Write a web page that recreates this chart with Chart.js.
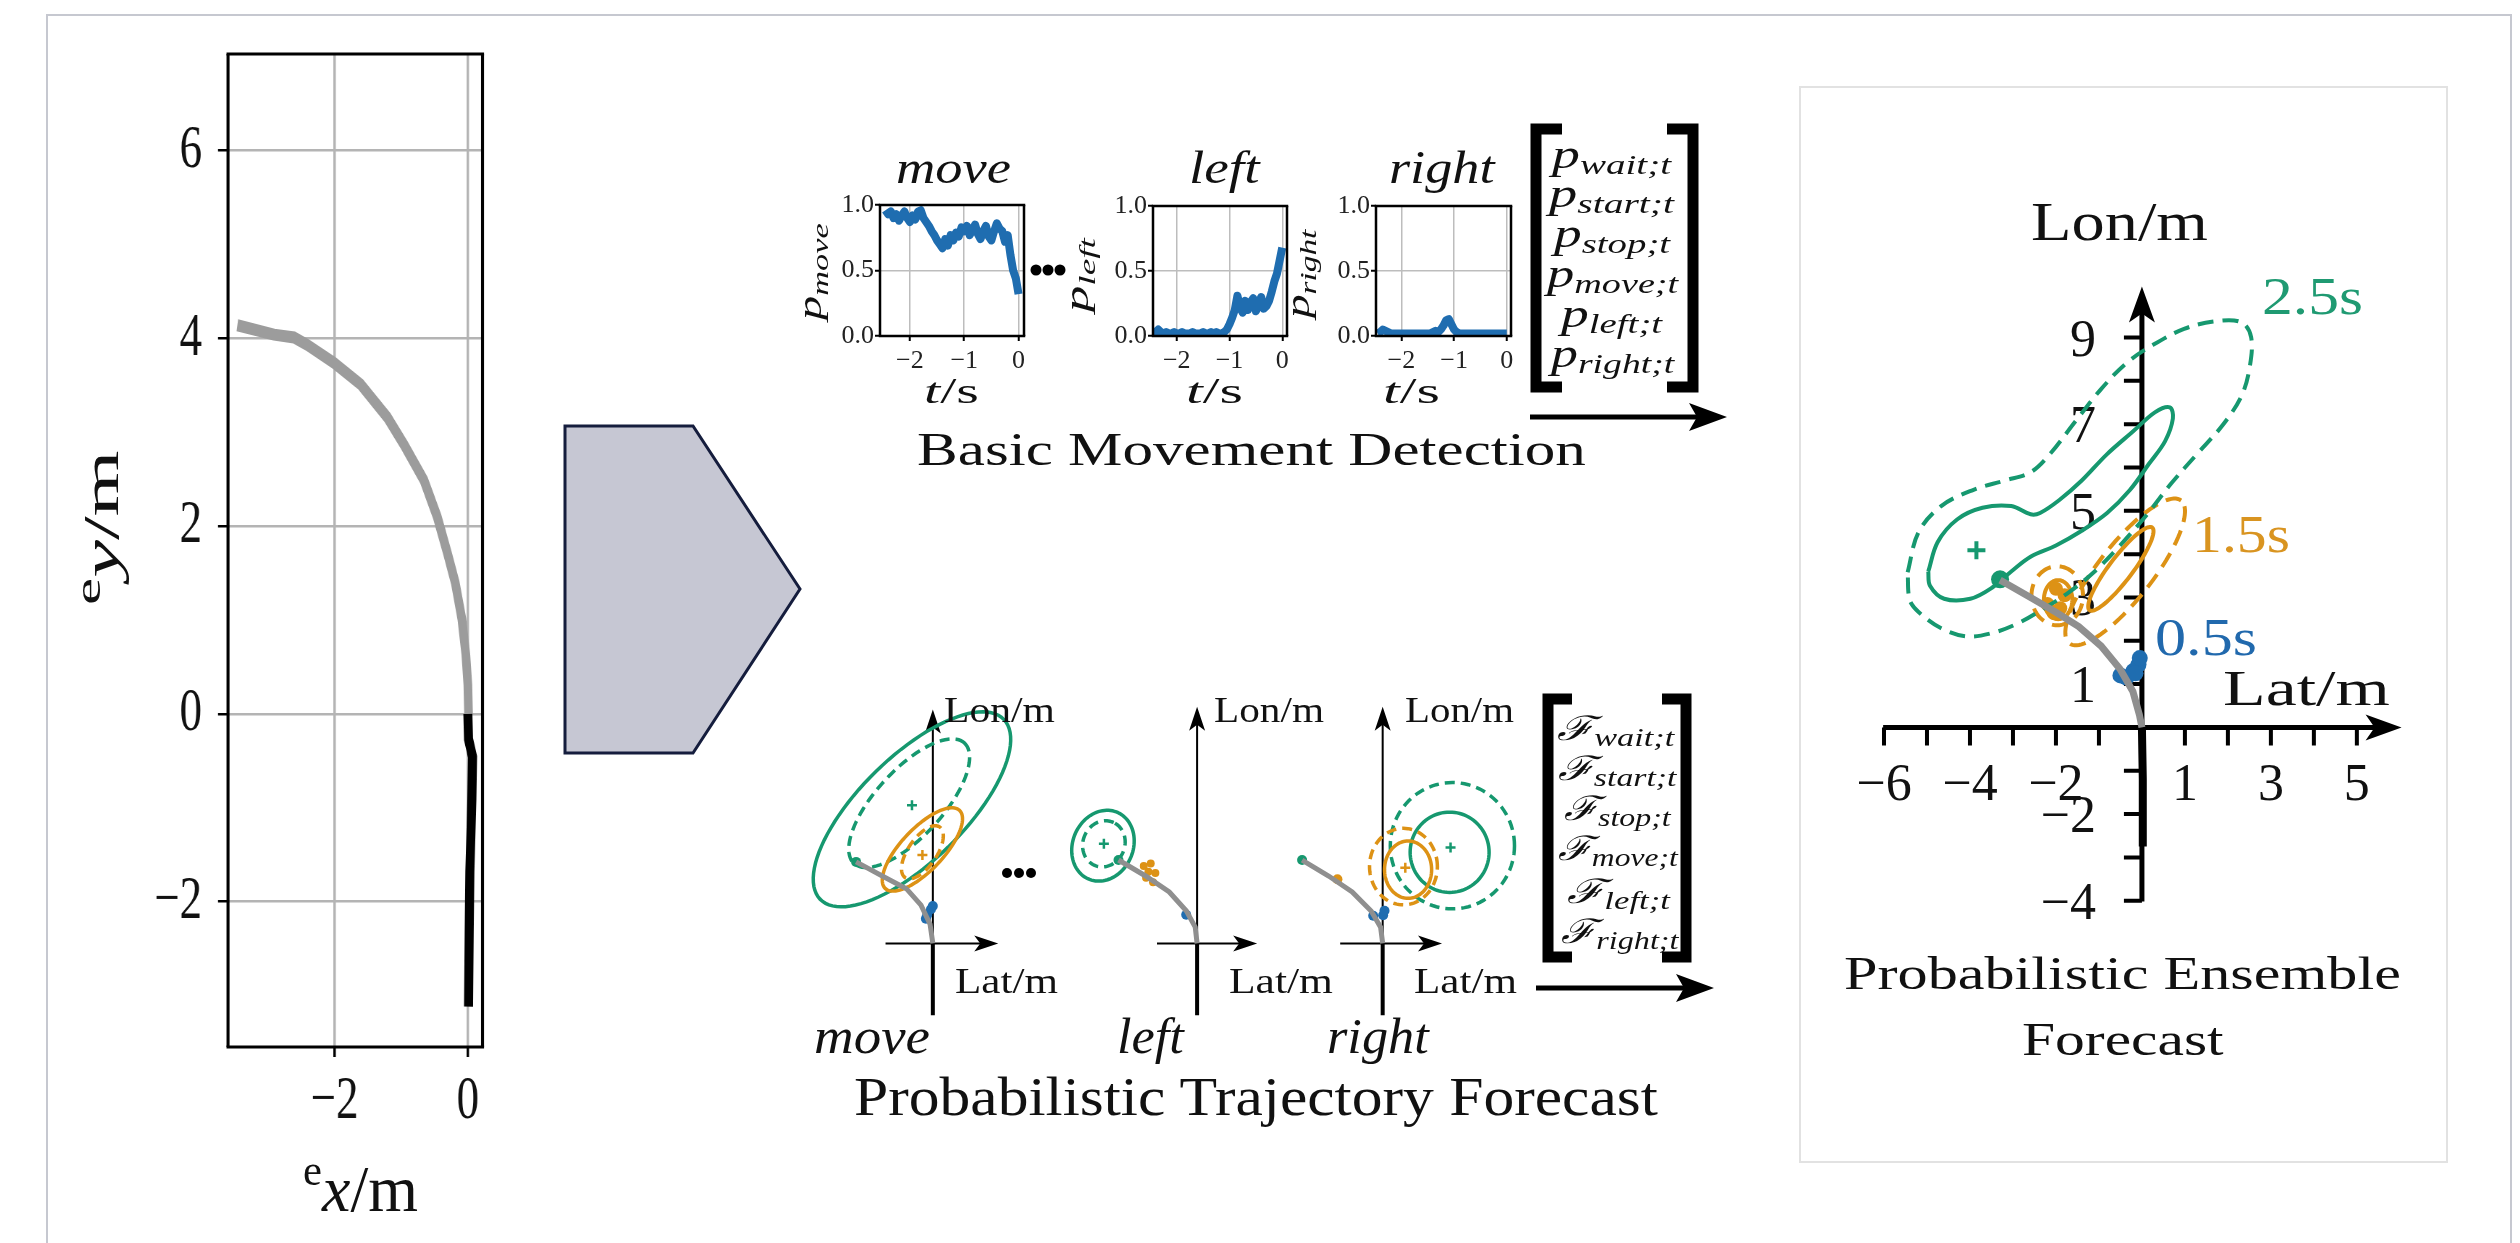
<!DOCTYPE html>
<html>
<head>
<meta charset="utf-8">
<script src="https://cdn.jsdelivr.net/npm/chart.js@4.4.1/dist/chart.umd.min.js"></script>
<style>
  html, body { margin: 0; padding: 0; background: #fff; }
  body { width: 2520px; height: 1243px; position: relative; overflow: hidden; }
  canvas { position: absolute; }
  svg { position: absolute; left: 0; top: 0; }
  svg text { font-family: "Liberation Serif", serif; fill: #111; }
</style>
</head>
<body>
<svg id="back" width="2520" height="1243">
  <rect x="47" y="15" width="2464" height="1300" fill="none" stroke="#c6c8d0" stroke-width="2"/>
  <rect x="1800" y="87" width="647" height="1075" fill="#fff" stroke="#e2e2e2" stroke-width="2"/>
  <polygon points="565,426 693,426 800,589 693,753 565,753" fill="#c6c7d3" stroke="#151d3d" stroke-width="3"/>
</svg>

<canvas id="traj"></canvas>
<canvas id="pMove"></canvas>
<canvas id="pLeft"></canvas>
<canvas id="pRight"></canvas>
<canvas id="fMove"></canvas>
<canvas id="fLeft"></canvas>
<canvas id="fRight"></canvas>
<canvas id="ens"></canvas>

<svg id="deco" width="2520" height="1243">
  <!-- left panel axis titles -->
  <text transform="translate(303,1211)" font-size="66" data-w="115"><tspan font-size="44" dy="-26">e</tspan><tspan font-style="italic" dy="26">x</tspan>/m</text>
  <text transform="translate(118,605) rotate(-90)" font-size="50" data-w="155"><tspan font-size="36" dy="-18">e</tspan><tspan font-style="italic" dy="18">y</tspan>/m</text>

  <!-- basic movement detection -->
  <text transform="translate(896,183)" font-size="46" font-style="italic" data-w="115">move</text>
  <text transform="translate(1189,183)" font-size="46" font-style="italic" data-w="72">left</text>
  <text transform="translate(1389,183)" font-size="46" font-style="italic" data-w="107">right</text>
  <text transform="translate(924,403)" font-size="36" data-w="55"><tspan font-style="italic">t</tspan>/s</text>
  <text transform="translate(1186,403)" font-size="36" data-w="57"><tspan font-style="italic">t</tspan>/s</text>
  <text transform="translate(1383,403)" font-size="36" data-w="57"><tspan font-style="italic">t</tspan>/s</text>
  <text transform="translate(821,320) rotate(-90)" font-size="34" data-w="100"><tspan font-style="italic">p</tspan><tspan font-style="italic" font-size="24" dy="7">move</tspan></text>
  <text transform="translate(1088,312) rotate(-90)" font-size="34" data-w="79"><tspan font-style="italic">p</tspan><tspan font-style="italic" font-size="24" dy="7">left</tspan></text>
  <text transform="translate(1309,318) rotate(-90)" font-size="34" data-w="93"><tspan font-style="italic">p</tspan><tspan font-style="italic" font-size="24" dy="7">right</tspan></text>
  <circle cx="1036" cy="270" r="5.5" fill="#000"/><circle cx="1048" cy="270" r="5.5" fill="#000"/><circle cx="1060" cy="270" r="5.5" fill="#000"/>
  <text transform="translate(917,465)" font-size="46" data-w="669">Basic Movement Detection</text>

  <polyline points="1562,129 1536,129 1536,387 1562,387" fill="none" stroke="#000" stroke-width="11"/>
  <polyline points="1667,129 1693,129 1693,387 1667,387" fill="none" stroke="#000" stroke-width="11"/>
  <text transform="translate(1552,168)" font-size="40" data-w="125"><tspan font-style="italic">p</tspan><tspan font-style="italic" font-size="28" dy="6">wait;t</tspan></text>
  <text transform="translate(1549,207)" font-size="40" data-w="131"><tspan font-style="italic">p</tspan><tspan font-style="italic" font-size="28" dy="6">start;t</tspan></text>
  <text transform="translate(1554,247)" font-size="40" data-w="122"><tspan font-style="italic">p</tspan><tspan font-style="italic" font-size="28" dy="6">stop;t</tspan></text>
  <text transform="translate(1547,287)" font-size="40" data-w="137"><tspan font-style="italic">p</tspan><tspan font-style="italic" font-size="28" dy="6">move;t</tspan></text>
  <text transform="translate(1561,327)" font-size="40" data-w="107"><tspan font-style="italic">p</tspan><tspan font-style="italic" font-size="28" dy="6">left;t</tspan></text>
  <text transform="translate(1551,367)" font-size="40" data-w="129"><tspan font-style="italic">p</tspan><tspan font-style="italic" font-size="28" dy="6">right;t</tspan></text>
  <line x1="1530" y1="417" x2="1705" y2="417" stroke="#000" stroke-width="5"/>
  <polygon points="1727,417 1689,403 1697,417 1689,431" fill="#000"/>

  <!-- probabilistic trajectory forecast -->
  <text transform="translate(944,722)" font-size="36" data-w="111">Lon/m</text>
  <text transform="translate(1214,722)" font-size="36" data-w="110">Lon/m</text>
  <text transform="translate(1405,722)" font-size="36" data-w="109">Lon/m</text>
  <text transform="translate(955,993)" font-size="36" data-w="103">Lat/m</text>
  <text transform="translate(1229,993)" font-size="36" data-w="104">Lat/m</text>
  <text transform="translate(1414,993)" font-size="36" data-w="103">Lat/m</text>
  <text transform="translate(814,1053)" font-size="50" font-style="italic" data-w="116">move</text>
  <text transform="translate(1117,1053)" font-size="50" font-style="italic" data-w="68">left</text>
  <text transform="translate(1327,1053)" font-size="50" font-style="italic" data-w="103">right</text>
  <circle cx="1007" cy="873" r="5" fill="#000"/><circle cx="1019" cy="873" r="5" fill="#000"/><circle cx="1031" cy="873" r="5" fill="#000"/>
  <text transform="translate(854,1115)" font-size="55" data-w="804">Probabilistic Trajectory Forecast</text>

  <polyline points="1572,699 1548,699 1548,957 1572,957" fill="none" stroke="#000" stroke-width="11"/>
  <polyline points="1662,699 1686,699 1686,957 1662,957" fill="none" stroke="#000" stroke-width="11"/>
  <text transform="translate(1557,740)" font-size="34" data-w="118"><tspan font-family="DejaVu Serif" font-style="italic">ℱ</tspan><tspan font-style="italic" font-size="26" dy="6">wait;t</tspan></text>
  <text transform="translate(1558,780)" font-size="34" data-w="120"><tspan font-family="DejaVu Serif" font-style="italic">ℱ</tspan><tspan font-style="italic" font-size="26" dy="6">start;t</tspan></text>
  <text transform="translate(1564,820)" font-size="34" data-w="108"><tspan font-family="DejaVu Serif" font-style="italic">ℱ</tspan><tspan font-style="italic" font-size="26" dy="6">stop;t</tspan></text>
  <text transform="translate(1558,860)" font-size="34" data-w="121"><tspan font-family="DejaVu Serif" font-style="italic">ℱ</tspan><tspan font-style="italic" font-size="26" dy="6">move;t</tspan></text>
  <text transform="translate(1567,903)" font-size="34" data-w="104"><tspan font-family="DejaVu Serif" font-style="italic">ℱ</tspan><tspan font-style="italic" font-size="26" dy="6">left;t</tspan></text>
  <text transform="translate(1561,943)" font-size="34" data-w="118"><tspan font-family="DejaVu Serif" font-style="italic">ℱ</tspan><tspan font-style="italic" font-size="26" dy="6">right;t</tspan></text>
  <line x1="1536" y1="988" x2="1692" y2="988" stroke="#000" stroke-width="5"/>
  <polygon points="1714,988 1676,974 1684,988 1676,1002" fill="#000"/>

  <!-- probabilistic ensemble forecast -->
  <text transform="translate(2031,240)" font-size="54" data-w="177">Lon/m</text>
  <text transform="translate(2223,705)" font-size="50" data-w="167">Lat/m</text>
  <text transform="translate(2262,314)" font-size="52" data-w="101" style="fill:#1f9a72">2.5s</text>
  <text transform="translate(2192,552)" font-size="52" data-w="98" style="fill:#d99420">1.5s</text>
  <text transform="translate(2155,655)" font-size="52" data-w="102" style="fill:#2169ad">0.5s</text>
  <text transform="translate(1844,989)" font-size="46" data-w="557">Probabilistic Ensemble</text>
  <text transform="translate(2022,1055)" font-size="46" data-w="202">Forecast</text>
</svg>

<script>
// ---------- ego trajectory (left panel), metres ----------
const trajTicksX = [-2, 0];
const trajTicksY = [-2, 0, 2, 4, 6];
const futureX = [-3.46, -2.91, -2.61, -2.41, -2.01, -1.61, -1.21, -0.96, -0.66, -0.46, -0.31, -0.19, -0.09, -0.03, 0.0, 0.01];
const futureY = [4.14, 4.04, 4.01, 3.93, 3.74, 3.51, 3.16, 2.87, 2.49, 2.10, 1.72, 1.40, 1.01, 0.63, 0.31, 0.0];
const pastX = [0.0, 0.01, 0.07, 0.06, 0.03, 0.02, 0.01];
const pastY = [0.0, -0.27, -0.46, -0.91, -1.68, -2.32, -3.12];

// ---------- basic movement detection ----------
const probTicksX = [-2, -1, 0];
const probTicksY = [0, 0.5, 1];
const probTickLabelsY = ['0.0', '0.5', '1.0'];
const tSec = [-2.45, -2.4, -2.35, -2.3, -2.25, -2.2, -2.15, -2.1, -2.05, -2.0,
              -1.95, -1.9, -1.85, -1.8, -1.75, -1.7, -1.65, -1.6, -1.55, -1.5,
              -1.45, -1.4, -1.35, -1.3, -1.25, -1.2, -1.15, -1.1, -1.05, -1.0,
              -0.95, -0.9, -0.85, -0.8, -0.75, -0.7, -0.65, -0.6, -0.55, -0.5,
              -0.45, -0.4, -0.35, -0.3, -0.25, -0.2, -0.15, -0.1, -0.05, 0];
const pMove = [0.96, 0.93, 0.95, 0.90, 0.93, 0.88, 0.92, 0.95, 0.90, 0.87,
               0.92, 0.89, 0.95, 0.96, 0.90, 0.87, 0.84, 0.80, 0.77, 0.73,
               0.70, 0.67, 0.74, 0.69, 0.77, 0.73, 0.79, 0.76, 0.83, 0.80,
               0.84, 0.77, 0.81, 0.85, 0.78, 0.74, 0.80, 0.84, 0.76, 0.73,
               0.80, 0.86, 0.82, 0.80, 0.72, 0.77, 0.62, 0.50, 0.44, 0.32];
const pLeft = [0.02, 0.03, 0.05, 0.03, 0.02, 0.03, 0.02, 0.02, 0.03, 0.02,
               0.02, 0.03, 0.02, 0.02, 0.02, 0.03, 0.02, 0.02, 0.02, 0.03,
               0.02, 0.02, 0.03, 0.02, 0.03, 0.02, 0.02, 0.03, 0.05, 0.09,
               0.14, 0.20, 0.31, 0.22, 0.18, 0.27, 0.20, 0.26, 0.29, 0.19,
               0.24, 0.30, 0.21, 0.23, 0.27, 0.34, 0.42, 0.48, 0.58, 0.68];
const pRight = [0.02, 0.03, 0.05, 0.04, 0.03, 0.02, 0.02, 0.02, 0.02, 0.02,
                0.02, 0.02, 0.02, 0.02, 0.02, 0.02, 0.02, 0.02, 0.02, 0.02,
                0.02, 0.03, 0.04, 0.03, 0.05, 0.08, 0.12, 0.13, 0.09, 0.05,
                0.03, 0.02, 0.02, 0.02, 0.02, 0.02, 0.02, 0.02, 0.02, 0.02,
                0.02, 0.02, 0.02, 0.02, 0.02, 0.02, 0.02, 0.02, 0.02, 0.02];

// ---------- per-model forecasts (Lat, Lon in m) ----------
// ellipses: [lat, lon, semi-axis a, semi-axis b, angle deg]
const pastLat = [0, 0];
const pastLon = [0, -3.06];
const mvGtLat = [0, -0.12, -0.51, -1.14, -2.16, -3.31];
const mvGtLon = [0, 0.82, 1.63, 2.33, 2.86, 3.47];
const mvGreenOuter = [-0.90, 5.71, 5.51, 2.24, 44];
const mvGreenInner = [-1.02, 5.97, 3.50, 1.43, 47];
const mvOrangeOuter = [-0.45, 4.00, 2.31, 0.90, 46];
const mvOrangeInner = [-0.45, 3.88, 1.31, 0.61, 55];
const mvMeanGreen = [-0.90, 5.88];
const mvMeanOrange = [-0.45, 3.76];
const mvBlueLat = [-0.30, -0.24, -0.08, 0.0];
const mvBlueLon = [1.05, 1.22, 1.45, 1.59];

const lfGtLat = [0, -0.08, -0.46, -1.20, -2.22, -3.39];
const lfGtLon = [0, 0.69, 1.38, 2.19, 2.87, 3.55];
const lfGreenOuter = [-4.06, 4.16, 1.55, 1.30, 65];
const lfGreenInner = [-4.02, 4.24, 1.00, 0.90, 65];
const lfMeanGreen = [-4.02, 4.24];
const lfOrangeLat = [-2.30, -2.00, -1.80, -2.20, -1.90, -2.10];
const lfOrangeLon = [3.30, 3.40, 3.00, 2.80, 2.60, 3.05];
const lfBlue = [-0.47, 1.22];

const rtGtLat = [0, -0.09, -0.50, -1.32, -2.34, -3.49];
const rtGtLon = [0, 0.69, 1.38, 2.19, 2.87, 3.55];
const rtGreenInner = [2.90, 3.88, 1.71, 1.71, 0];
const rtGreenOuter = [3.02, 4.16, 2.69, 2.69, 0];
const rtOrangeInner = [1.10, 3.14, 1.02, 1.22, 0];
const rtOrangeOuter = [0.90, 3.27, 1.47, 1.63, 0];
const rtMeanGreen = [2.94, 4.08];
const rtMeanOrange = [0.98, 3.22];
const rtOrange = [-1.96, 2.73];
const rtBlueLat = [-0.41, 0.02, 0.08];
const rtBlueLon = [1.18, 1.20, 1.39];

// ---------- ensemble forecast ----------
const ensTicksX = [-6, -5, -4, -3, -2, -1, 1, 2, 3, 4, 5];
const ensTicksY = [-4, -3, -2, -1, 1, 2, 3, 4, 5, 6, 7, 8, 9];
const ensLabelsX = [-6, -4, -2, 1, 3, 5];
const ensLabelsY = [9, 7, 5, 3, 1, -2, -4];
const ensGtLat = [0, -0.06, -0.21, -0.51, -0.95, -1.47, -2.00, -2.59, -3.19, -3.30];
const ensGtLon = [0, 0.30, 0.83, 1.35, 1.88, 2.33, 2.66, 3.00, 3.34, 3.40];
const ensPastLat = [0, 0.02, 0.02];
const ensPastLon = [0, -1.20, -2.75];
const ens1Lat = [-4.97, -4.75, -4.30, -3.71, -3.04, -2.59, -2.37, -1.92, -1.40, -0.81, -0.21, 0.31, 0.65, 0.72,
                 0.54, 0.16, -0.28, -0.81, -1.40, -2.00, -2.59, -3.04, -3.48, -3.99, -4.60, -4.93, -4.97];
const ens1Lon = [3.60, 4.28, 4.80, 5.07, 5.11, 4.92, 4.95, 5.25, 5.70, 6.31, 6.83, 7.28, 7.39, 7.13,
                 6.61, 6.08, 5.48, 4.95, 4.54, 4.20, 3.94, 3.60, 3.23, 2.97, 2.97, 3.27, 3.60];
const ens2Lat = [-5.45, -5.20, -4.67, -3.93, -3.19, -2.59, -2.14, -1.55, -0.95, -0.36, 0.24, 0.98, 1.73, 2.32, 2.54, 2.51,
                 2.32, 1.88, 1.28, 0.68, 0.09, -0.51, -1.10, -1.70, -2.29, -2.89, -3.48, -4.08, -4.67, -5.19, -5.40, -5.45];
const ens2Lon = [3.58, 4.50, 5.11, 5.48, 5.70, 5.89, 6.31, 7.06, 7.81, 8.41, 8.82, 9.20, 9.38, 9.35, 9.01, 8.33,
                 7.66, 6.98, 6.31, 5.63, 4.88, 4.20, 3.60, 3.12, 2.74, 2.40, 2.18, 2.10, 2.29, 2.66, 2.94, 3.58];
const ensOrangeInner = [-0.49, 3.66, 1.20, 0.27, 52.6];
const ensOrangeOuter = [-0.39, 3.59, 2.10, 0.63, 51.7];
const ensOrangeSmallIn = [-1.95, 2.95, 0.33, 0.45, 0];
const ensOrangeSmallOut = [-1.97, 3.04, 0.60, 0.68, 0];
const ensOrangeLat = [-2.05, -1.90, -2.20, -1.80, -2.00];
const ensOrangeLon = [2.64, 2.75, 2.85, 3.05, 3.20];
const ensBlueLat = [-0.50, -0.36, -0.20, -0.08, -0.05, -0.15];
const ensBlueLon = [1.20, 1.15, 1.30, 1.45, 1.60, 1.25];
const ensGreenDot = [-3.30, 3.42];
const ensMeanGreen = [-3.85, 4.09];

// ---------- helpers ----------
const GREEN = '#16986f', ORANGE = '#dd9215', BLUE = '#1f6db0', GRAY = '#8f8f8f';
const FONT = 'Liberation Serif';
const minus = v => (v < 0 ? '\u2212' + Math.abs(v) : String(v));
const pts = (xs, ys) => xs.map((x, i) => ({x, y: ys[i]}));

// iw: drawing width of the canvas when it differs from its on-page width
function place(id, left, top, w, h, iw) {
  const c = document.getElementById(id);
  c.width = iw || w; c.height = h;
  c.style.left = left + 'px'; c.style.top = top + 'px';
  c.style.width = w + 'px'; c.style.height = h + 'px';
  return c;
}

// stretch each svg label to the width it has in the figure
function fitLabels() {
  document.querySelectorAll('#deco text[data-w]').forEach(t => {
    const k = +t.dataset.w / t.getBBox().width;
    t.setAttribute('transform', t.getAttribute('transform') + ' scale(' + k.toFixed(4) + ',1)');
  });
}

function boxFrame(wv, wh) {
  return {
    id: 'boxFrame',
    afterDraw(chart) {
      const a = chart.chartArea, ctx = chart.ctx;
      ctx.save();
      ctx.strokeStyle = '#000';
      ctx.lineWidth = wh;
      ctx.beginPath();
      ctx.moveTo(a.left - wv / 2, a.top); ctx.lineTo(a.right + wv / 2, a.top);
      ctx.moveTo(a.left - wv / 2, a.bottom); ctx.lineTo(a.right + wv / 2, a.bottom);
      ctx.stroke();
      ctx.lineWidth = wv;
      ctx.beginPath();
      ctx.moveTo(a.left, a.top); ctx.lineTo(a.left, a.bottom);
      ctx.moveTo(a.right, a.top); ctx.lineTo(a.right, a.bottom);
      ctx.stroke();
      ctx.restore();
    }
  };
}

function arrowHead(ctx, tx, ty, dx, dy, len, half) {
  const nx = -dy, ny = dx, bx = tx - dx * len, by = ty - dy * len;
  ctx.beginPath();
  ctx.moveTo(tx, ty);
  ctx.lineTo(bx + nx * half, by + ny * half);
  ctx.lineTo(tx - dx * len * 0.75, ty - dy * len * 0.75);
  ctx.lineTo(bx - nx * half, by - ny * half);
  ctx.closePath();
  ctx.fill();
}

// axes with arrow heads, ticks and ellipses, all placed through the chart scales
function mapDeco(cfg) {
  return {
    id: 'mapDeco',
    beforeDatasetsDraw(chart) {
      const ctx = chart.ctx, sx = chart.scales.x, sy = chart.scales.y;
      const X = v => sx.getPixelForValue(v), Y = v => sy.getPixelForValue(v);
      ctx.save();
      ctx.strokeStyle = ctx.fillStyle = '#000';
      ctx.lineWidth = cfg.axisWidth;
      const [hl, hh] = cfg.head;
      ctx.beginPath();
      ctx.moveTo(X(cfg.xFrom), Y(0)); ctx.lineTo(X(cfg.xTo) - hl * 0.6, Y(0));
      ctx.moveTo(X(0), Y(cfg.yFrom)); ctx.lineTo(X(0), Y(cfg.yTo) + hl * 0.6);
      ctx.stroke();
      arrowHead(ctx, X(cfg.xTo), Y(0), 1, 0, hl, hh);
      arrowHead(ctx, X(0), Y(cfg.yTo), 0, -1, hl, hh);
      ctx.lineWidth = cfg.tickWidth || 2;
      ctx.beginPath();
      (cfg.ticksX || []).forEach(v => { ctx.moveTo(X(v), Y(0)); ctx.lineTo(X(v), Y(0) + cfg.tickLen); });
      (cfg.ticksY || []).forEach(v => { ctx.moveTo(X(0), Y(v)); ctx.lineTo(X(0) - cfg.tickLen, Y(v)); });
      ctx.stroke();
      if (cfg.labelsX) {
        ctx.font = cfg.labelFont;
        ctx.fillStyle = '#111';
        ctx.textAlign = 'center'; ctx.textBaseline = 'alphabetic';
        cfg.labelsX.forEach(v => ctx.fillText(minus(v), X(v), Y(0) + cfg.labelDX));
        ctx.textAlign = 'right';
        cfg.labelsY.forEach(v => ctx.fillText(minus(v), X(0) - cfg.labelDY, Y(v) + 18));
      }
      (cfg.ellipses || []).forEach(it => {
        const [cx, cy, a, b, deg] = it.e, th = deg * Math.PI / 180;
        ctx.strokeStyle = it.color;
        ctx.lineWidth = cfg.curveWidth;
        ctx.setLineDash(it.dash ? cfg.dash : []);
        ctx.beginPath();
        for (let i = 0; i <= 96; i++) {
          const t = i / 96 * 2 * Math.PI, u = a * Math.cos(t), w = b * Math.sin(t);
          const px = X(cx + u * Math.cos(th) - w * Math.sin(th));
          const py = Y(cy + u * Math.sin(th) + w * Math.cos(th));
          if (i) ctx.lineTo(px, py); else ctx.moveTo(px, py);
        }
        ctx.closePath();
        ctx.stroke();
      });
      ctx.restore();
    }
  };
}

const baseOpts = {
  responsive: false, animation: false, devicePixelRatio: 1,
  plugins: {legend: {display: false}, tooltip: {enabled: false}}
};
// keep Chart.js from padding the plot area for half-labels
const noPadX = s => { s.paddingLeft = 0; s.paddingRight = 0; };
const noPadY = s => { s.paddingTop = 0; s.paddingBottom = 0; };

// ---------- left: ego trajectory (panel is stretched vertically in the figure) ----------
(function () {
  const L = 40, T = 30, W = 470, H = 1110, IW = 649, k = IW / W;
  const area = {l: 228, t: 54, r: 482.5, b: 1047};
  place('traj', L, T, W, H, IW);
  const tickFont = {family: FONT, size: 62};
  new Chart('traj', {
    type: 'scatter',
    data: {datasets: [
      {data: pts(futureX, futureY), showLine: true, borderColor: '#9c9c9c', borderWidth: 12, pointRadius: 0},
      {data: pts(pastX, pastY), showLine: true, borderColor: '#000', borderWidth: 12.5, pointRadius: 0}
    ]},
    options: Object.assign({}, baseOpts, {
      layout: {padding: {top: area.t - T, right: (L + W - area.r) * k, left: 0, bottom: 0}},
      scales: {
        x: {type: 'linear', min: -3.6, max: 0.22,
            afterBuildTicks: s => { s.ticks = trajTicksX.map(v => ({value: v})); },
            afterFit: s => { s.height = T + H - area.b; noPadX(s); },
            grid: {color: '#b4b4b4', lineWidth: 2.5 * k, tickLength: 10, tickColor: '#000', tickWidth: 2.5 * k},
            border: {display: false},
            ticks: {font: tickFont, color: '#111', padding: 8, maxRotation: 0, callback: v => minus(v)}},
        y: {type: 'linear', min: -3.55, max: 7.03,
            afterBuildTicks: s => { s.ticks = trajTicksY.map(v => ({value: v})); },
            afterFit: s => { s.width = (area.l - L) * k; noPadY(s); },
            grid: {color: '#b4b4b4', lineWidth: 2.5, tickLength: 10 * k, tickColor: '#000', tickWidth: 2.5},
            border: {display: false},
            ticks: {font: tickFont, color: '#111', padding: 16 * k, callback: v => minus(v)}}
      }
    }),
    plugins: [boxFrame(3 * k, 3)]
  });
})();

// ---------- basic movement detection ----------
function probChart(id, area, xMin, xMax, vals) {
  const L = area.l - 80, T = area.t - 20, W = area.r - L + 16, H = area.b - T + 50;
  place(id, L, T, W, H);
  const tickFont = {family: FONT, size: 26};
  new Chart(id, {
    type: 'scatter',
    data: {datasets: [{data: pts(tSec, vals), showLine: true, borderColor: BLUE, borderWidth: 8,
                       pointRadius: 0, borderJoinStyle: 'round'}]},
    options: Object.assign({}, baseOpts, {
      layout: {padding: {top: area.t - T, right: L + W - area.r, left: 0, bottom: 0}},
      scales: {
        x: {type: 'linear', min: xMin, max: xMax,
            afterBuildTicks: s => { s.ticks = probTicksX.map(v => ({value: v})); },
            afterFit: s => { s.height = T + H - area.b; noPadX(s); },
            grid: {color: '#bdbdbd', lineWidth: 1.5, tickLength: 5, tickColor: '#000', tickWidth: 2},
            border: {display: false},
            ticks: {font: tickFont, color: '#222', padding: 5, maxRotation: 0, callback: v => minus(v)}},
        y: {type: 'linear', min: 0, max: 1,
            afterBuildTicks: s => { s.ticks = probTicksY.map(v => ({value: v})); },
            afterFit: s => { s.width = area.l - L; noPadY(s); },
            grid: {color: '#bdbdbd', lineWidth: 1.5, tickLength: 5, tickColor: '#000', tickWidth: 2},
            border: {display: false},
            ticks: {font: tickFont, color: '#222', padding: 1,
                    callback: (v, i) => probTickLabelsY[i]}}
      }
    }),
    plugins: [boxFrame(2.5, 2.5)]
  });
}
probChart('pMove', {l: 880, t: 205, r: 1024, b: 336}, -2.55, 0.10, pMove);
probChart('pLeft', {l: 1153, t: 206, r: 1287, b: 336}, -2.45, 0.09, pLeft);
probChart('pRight', {l: 1376, t: 206, r: 1511, b: 336}, -2.48, 0.08, pRight);

// ---------- map-like charts (Lat/Lon) ----------
function mapChart(id, left, top, w, h, o, datasets, deco) {
  place(id, left, top, w, h);
  new Chart(id, {
    type: 'scatter',
    data: {datasets},
    options: Object.assign({}, baseOpts, {
      layout: {padding: 0},
      scales: {
        x: {type: 'linear', display: false, min: (left - o.x) / o.kx, max: (left + w - o.x) / o.kx},
        y: {type: 'linear', display: false, min: (o.y - top - h) / o.ky, max: (o.y - top) / o.ky}
      }
    }),
    plugins: [mapDeco(deco)]
  });
}
const line = (xs, ys, color, width, extra) => Object.assign(
  {data: pts(xs, ys), showLine: true, borderColor: color, borderWidth: width, pointRadius: 0}, extra || {});
const dots = (xs, ys, color, r) => ({data: pts(xs, ys), showLine: false, pointRadius: r,
  backgroundColor: color, borderWidth: 0});
const plus = (p, color, r, bw) => ({data: [{x: p[0], y: p[1]}], showLine: false, pointStyle: 'cross',
  pointRadius: r, borderColor: color, borderWidth: bw});

const miniDeco = (xFrom, xTo, yTo, ellipses) => ({axisWidth: 2, xFrom, xTo, yFrom: 0, yTo, head: [24, 8],
  curveWidth: 3.5, dash: [10, 6], ellipses});

mapChart('fMove', 790, 680, 280, 360, {x: 933, y: 947, kx: 24.5, ky: 24.5}, [
  line(mvGtLat, mvGtLon, GRAY, 5),
  line(pastLat, pastLon, '#000', 4),
  dots([mvGtLat[5]], [mvGtLon[5]], GREEN, 5),
  dots(mvBlueLat, mvBlueLon, BLUE, 5),
  plus(mvMeanGreen, GREEN, 5, 2.5),
  plus(mvMeanOrange, ORANGE, 5, 2.5)
], miniDeco(-2.04, 2.82, 9.96, [
  {e: mvGreenOuter, color: GREEN}, {e: mvGreenInner, color: GREEN, dash: true},
  {e: mvOrangeOuter, color: ORANGE}, {e: mvOrangeInner, color: ORANGE, dash: true}
]));

mapChart('fLeft', 1050, 680, 280, 360, {x: 1197.5, y: 947, kx: 24.5, ky: 24.5}, [
  line(lfGtLat, lfGtLon, GRAY, 5),
  line(pastLat, pastLon, '#000', 4),
  dots([lfGtLat[5]], [lfGtLon[5]], GREEN, 5),
  dots(lfOrangeLat, lfOrangeLon, ORANGE, 4),
  dots([lfBlue[0]], [lfBlue[1]], BLUE, 5),
  plus(lfMeanGreen, GREEN, 5, 2.5)
], miniDeco(-1.73, 2.59, 10.08, [
  {e: lfGreenOuter, color: GREEN}, {e: lfGreenInner, color: GREEN, dash: true}
]));

mapChart('fRight', 1280, 680, 260, 360, {x: 1381, y: 947, kx: 24.5, ky: 24.5}, [
  line(rtGtLat, rtGtLon, GRAY, 5),
  line(pastLat, pastLon, '#000', 4),
  dots([rtGtLat[5]], [rtGtLon[5]], GREEN, 5),
  dots([rtOrange[0]], [rtOrange[1]], ORANGE, 5),
  dots(rtBlueLat, rtBlueLon, BLUE, 5),
  plus(rtMeanGreen, GREEN, 5, 2.5),
  plus(rtMeanOrange, ORANGE, 5, 2.5)
], miniDeco(-1.84, 2.57, 10.08, [
  {e: rtGreenInner, color: GREEN}, {e: rtGreenOuter, color: GREEN, dash: true},
  {e: rtOrangeInner, color: ORANGE}, {e: rtOrangeOuter, color: ORANGE, dash: true}
]));

mapChart('ens', 1802, 89, 643, 1071, {x: 2142.7, y: 730, kx: 44.8, ky: 44.4}, [
  line(ensGtLat, ensGtLon, GRAY, 7),
  line(ensPastLat, ensPastLon, '#000', 8),
  line(ens2Lat, ens2Lon, GREEN, 4, {borderDash: [16, 9], tension: 0.35}),
  line(ens1Lat, ens1Lon, GREEN, 4, {tension: 0.35}),
  dots(ensOrangeLat, ensOrangeLon, ORANGE, 7),
  dots(ensBlueLat, ensBlueLon, BLUE, 8),
  dots([ensGreenDot[0]], [ensGreenDot[1]], GREEN, 9),
  plus(ensMeanGreen, GREEN, 9, 4)
], {axisWidth: 5, xFrom: -6.02, xTo: 6.04, yFrom: -4.02, yTo: 10.18, head: [36, 13],
    tickWidth: 4, tickLen: 18, ticksX: ensTicksX, ticksY: ensTicksY,
    labelsX: ensLabelsX, labelsY: ensLabelsY, labelFont: '52px "Liberation Serif"', labelDX: 73, labelDY: 46,
    curveWidth: 4, dash: [16, 9],
    ellipses: [
      {e: ensOrangeInner, color: ORANGE}, {e: ensOrangeOuter, color: ORANGE, dash: true},
      {e: ensOrangeSmallIn, color: ORANGE}, {e: ensOrangeSmallOut, color: ORANGE, dash: true}
    ]});

fitLabels();
</script>
</body>
</html>
